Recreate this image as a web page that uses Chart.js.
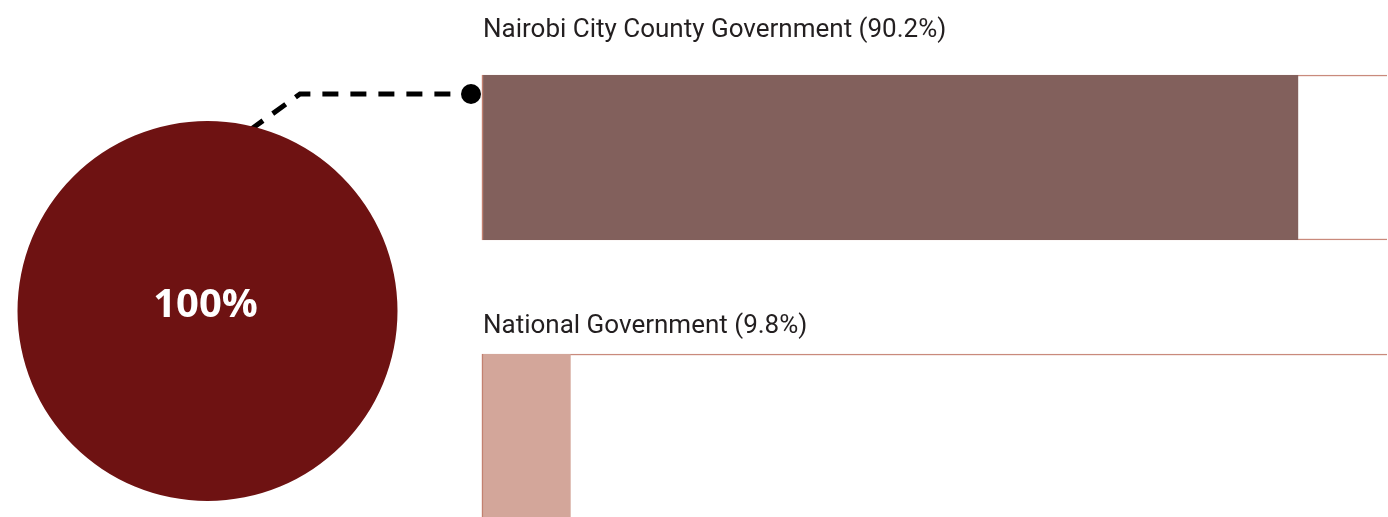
<!DOCTYPE html>
<html lang="en">
<head>
<meta charset="UTF-8">
<title>Share of funding</title>
<script src="https://cdn.jsdelivr.net/npm/chart.js"></script>
<style>
  body { margin: 0; background: #fff; }
  #wrap { position: relative; width: 1388px; height: 517px; overflow: hidden; }
  #barBox { position: absolute; left: 0; top: 0; width: 1388px; height: 517px; }
  #pieBox { position: absolute; left: 17px; top: 121px; width: 381px; height: 380px; }
</style>
</head>
<body>
<div id="wrap">
  <div id="barBox"><canvas id="barChart"></canvas></div>
  <div id="pieBox"><canvas id="pieChart"></canvas></div>
</div>

<script>
const categories = ['Nairobi City County Government', 'National Government'];
const shares = [90.2, 9.8];
const barColors = ['#82605c', '#d3a69a'];
const totalShare = [100];

const labelFont = '26px Roboto, "Open Sans", sans-serif';
const labelGap = [38, 21]; // distance from text baseline to bar top

// labels above bars + dashed connector
const barDecor = {
  id: 'barDecor',
  afterDatasetsDraw(chart) {
    const ctx = chart.ctx;
    const meta = chart.getDatasetMeta(0);
    ctx.save();
    ctx.fillStyle = '#231f20';
    ctx.font = labelFont;
    ctx.textBaseline = 'alphabetic';
    meta.data.forEach((bar, i) => {
      const top = bar.y - bar.height / 2;
      ctx.fillText(categories[i] + ' (' + shares[i] + '%)', chart.chartArea.left + 1, top - labelGap[i]);
    });

    // connector from the circle to the first bar
    const first = meta.data[0];
    const dotX = chart.chartArea.left - 11;
    const dotY = first.y - first.height / 2 + 19;
    ctx.strokeStyle = '#000';
    ctx.lineWidth = 5;
    ctx.setLineDash([16, 12]);
    ctx.beginPath();
    ctx.moveTo(250, 130);
    ctx.lineTo(300, dotY);
    ctx.lineTo(dotX, dotY);
    ctx.stroke();
    ctx.setLineDash([]);
    ctx.fillStyle = '#000';
    ctx.beginPath();
    ctx.arc(dotX, dotY, 10, 0, Math.PI * 2);
    ctx.fill();
    ctx.restore();
  }
};

new Chart(document.getElementById('barChart'), {
  type: 'bar',
  data: {
    labels: categories,
    datasets: [
      {
        data: shares,
        backgroundColor: barColors,
        borderColor: '#c3806f',
        borderWidth: { left: 1.5, top: 0, bottom: 0, right: 0 },
        borderSkipped: false,
        barThickness: 165,
        grouped: false,
        clip: false,
        order: 1
      },
      {
        data: categories.map(() => 100),
        backgroundColor: '#ffffff',
        borderColor: '#c98a7c',
        borderWidth: { top: 1.5, bottom: 1.5, left: 1.5, right: 0 },
        borderSkipped: false,
        barThickness: 165,
        grouped: false,
        clip: false,
        order: 2
      }
    ]
  },
  options: {
    indexAxis: 'y',
    responsive: true,
    maintainAspectRatio: false,
    animation: false,
    layout: { padding: { left: 482, right: 1, top: 157.5, bottom: 80.5 } },
    plugins: { legend: { display: false }, tooltip: { enabled: false } },
    scales: {
      x: { min: 0, max: 100, display: false },
      y: { display: false, offset: false }
    }
  },
  plugins: [barDecor]
});

// total circle
const centerText = {
  id: 'centerText',
  afterDatasetsDraw(chart) {
    const arc = chart.getDatasetMeta(0).data[0];
    const ctx = chart.ctx;
    ctx.save();
    ctx.fillStyle = '#ffffff';
    ctx.font = 'bold 40px "Open Sans", sans-serif';
    ctx.textAlign = 'center';
    ctx.textBaseline = 'middle';
    ctx.fillText(totalShare[0] + '%', arc.x - 2, arc.y - 5);
    ctx.restore();
  }
};

new Chart(document.getElementById('pieChart'), {
  type: 'pie',
  data: {
    labels: ['Total'],
    datasets: [{ data: totalShare, backgroundColor: ['#6e1212'], borderWidth: 0 }]
  },
  options: {
    responsive: true,
    maintainAspectRatio: false,
    animation: false,
    plugins: { legend: { display: false }, tooltip: { enabled: false } }
  },
  plugins: [centerText]
});
</script>
</body>
</html>
